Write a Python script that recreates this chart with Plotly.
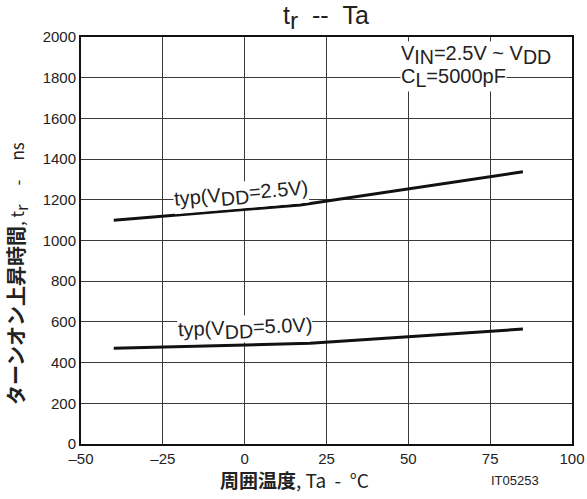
import plotly.graph_objects as go

# Data
ta_25 = [-40, 17, 85]
tr_25 = [1100, 1175, 1338]
ta_50 = [-40, 20, 85]
tr_50 = [470, 495, 565]

x_ticks = [-50, -25, 0, 25, 50, 75, 100]
x_ticktext = ["–50", "–25", "0", "25", "50", "75", "100"]
y_ticks = [0, 200, 400, 600, 800, 1000, 1200, 1400, 1600, 1800, 2000]

FONT = "Liberation Sans, Arial, sans-serif"
JP = "Noto Sans CJK JP, Liberation Sans, sans-serif"
SP = "&nbsp;"


def sub(s, pct=140):
    return '<sub><span style="font-size:%d%%">' % pct + s + '</span></sub>'


fig = go.Figure()
fig.add_trace(go.Scatter(x=ta_25, y=tr_25, mode="lines",
                         line=dict(color="#111111", width=3), showlegend=False))
fig.add_trace(go.Scatter(x=ta_50, y=tr_50, mode="lines",
                         line=dict(color="#111111", width=3), showlegend=False))

fig.update_layout(
    width=587, height=499,
    margin=dict(l=81, r=15, t=37, b=55, autoexpand=False),
    paper_bgcolor="white", plot_bgcolor="white",
    font=dict(family=FONT, color="#222222", size=15),
    xaxis=dict(range=[-50, 100], tickvals=x_ticks, ticktext=x_ticktext,
               showgrid=True, gridcolor="#3a3a3a", gridwidth=1,
               showline=True, linecolor="#111111", linewidth=2, mirror=True,
               zeroline=False, ticks="", tickfont=dict(size=15), automargin=False),
    yaxis=dict(range=[0, 2000], tickvals=y_ticks,
               showgrid=True, gridcolor="#3a3a3a", gridwidth=1,
               showline=True, linecolor="#111111", linewidth=2, mirror=True,
               zeroline=False, ticks="", tickfont=dict(size=15), automargin=False),
)

W, H = 587, 499
L, R, T, B = 81, 15, 37, 55
pw, ph = W - L - R, H - T - B


def px(x, y):
    return (x - L) / pw, (H - B - y) / ph


ann = []
tx, ty = px(326, 18)
ann.append(dict(x=tx, y=ty, xref="paper", yref="paper", xanchor="center", yanchor="middle",
                text="t" + sub("r") + SP * 2 + "--" + SP * 2 + "Ta", showarrow=False,
                font=dict(size=25, family=FONT, color="#222222")))
ann.append(dict(x=47.5, y=1911, xref="x", yref="y", xanchor="left", yanchor="middle",
                text="V" + sub("IN") + "=2.5V ~ V" + sub("DD"), showarrow=False,
                bgcolor="white", borderpad=0,
                font=dict(size=20, family=FONT, color="#222222")))
ann.append(dict(x=47.5, y=1800, xref="x", yref="y", xanchor="left", yanchor="middle",
                text="C" + sub("L") + "=5000pF", showarrow=False,
                bgcolor="white", borderpad=0,
                font=dict(size=20, family=FONT, color="#222222")))
ann.append(dict(x=-1, y=1222, xref="x", yref="y", xanchor="center", yanchor="middle",
                text="typ(V" + sub("DD") + "=2.5V)", showarrow=False, textangle=-5,
                bgcolor="white", borderpad=0,
                font=dict(size=20, family=FONT, color="#222222")))
ann.append(dict(x=0, y=563, xref="x", yref="y", xanchor="center", yanchor="middle",
                text="typ(V" + sub("DD") + "=5.0V)", showarrow=False, textangle=-2,
                bgcolor="white", borderpad=0,
                font=dict(size=20, family=FONT, color="#222222")))
ax, ay = px(294, 479)
ann.append(dict(x=ax, y=ay, xref="paper", yref="paper", xanchor="center", yanchor="middle",
                text="<b>周囲温度</b>," + SP + "Ta" + SP * 2 + "-" + SP * 2 + "°C", showarrow=False,
                font=dict(size=19, family=JP, color="#222222")))
ix, iy = px(541, 480)
ann.append(dict(x=ix, y=iy, xref="paper", yref="paper", xanchor="right", yanchor="middle",
                text="IT05253", showarrow=False,
                font=dict(size=13, family=FONT, color="#222222")))
yx, yy = px(17, 274)
ann.append(dict(x=yx, y=yy, xref="paper", yref="paper", xanchor="center", yanchor="middle",
                text='<b><span style="font-size:20px">ターンオン上昇時間</span></b>,' + SP + "t" + sub("r")
                     + SP * 5 + "-" + SP * 5 + "ns",
                showarrow=False, textangle=-90,
                font=dict(size=17, family=JP, color="#222222")))
fig.update_layout(annotations=ann)

fig.write_html("out.html", config={"displayModeBar": False},
               post_script="document.body.style.margin='0';document.body.style.padding='0';")
